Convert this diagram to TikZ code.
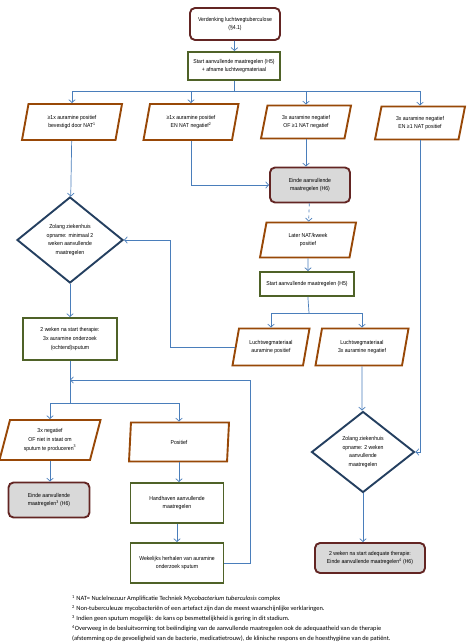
\documentclass[tikz,border=0pt]{standalone}
\usepackage{fontspec}
\setmainfont{Liberation Sans}[FakeStretch=0.9]
\newfontfamily\notefont{Carlito}
\usetikzlibrary{shapes.geometric,arrows.meta}

\definecolor{kaderrood}{HTML}{632523}
\definecolor{kadergroen}{HTML}{4F6228}
\definecolor{kaderoranje}{HTML}{984807}
\definecolor{kaderblauw}{HTML}{243F60}
\definecolor{lijnblauw}{HTML}{4A7EBB}
\definecolor{vulgrijs}{HTML}{D9D9D9}

\begin{document}
\begin{tikzpicture}[x=1pt,y=-1pt,
		tekst/.style={font=\fontsize{5.7}{8.6}\selectfont, align=center, inner sep=0pt},
		meldbox/.style={tekst, draw=kaderrood, line width=1.9pt, fill=white, rounded corners=5pt},
		eindbox/.style={tekst, draw=kaderrood, line width=1.9pt, fill=vulgrijs, rounded corners=5pt},
		stapbox/.style={tekst, draw=kadergroen, line width=1.9pt, fill=white},
		keuze/.style={tekst, trapezium, trapezium left angle=65, trapezium right angle=115,
			trapezium stretches body, draw=kaderoranje, line width=1.9pt, fill=white},
		ruit/.style={tekst, diamond, aspect=1.2, draw=kaderblauw, line width=1.9pt, fill=white},
		lijn/.style={draw=lijnblauw, line width=0.7pt},
		pijl/.style={lijn, -{Straight Barb[length=3pt,width=6.5pt]}},
		noot/.style={font=\notefont\fontsize{6.4}{10}\selectfont, align=left, inner sep=0pt}]
			\fill[white] (0,0) rectangle (474,644); % achtergrond
			\useasboundingbox (0,0) rectangle (474,644);
			% bovenste deel
			\node[meldbox, minimum width=90pt, minimum height=32pt] (verd) at (235,24) {Verdenking luchtwegtuberculose\\(§4.1)};
			\node[stapbox, minimum width=92pt, minimum height=28pt] (start1) at (234,66) {Start aanvullende maatregelen (H5)\\+ afname luchtwegmateriaal};
			\node[keuze, minimum width=100pt, minimum height=36pt] (pa1) at (72,122) {≥1x auramine positief\\bevestigd door NAT\textsuperscript{1}};
			\node[keuze, minimum width=95pt, minimum height=36pt] (pa2) at (191,122) {≥1x auramine positief\\EN NAT negatief\textsuperscript{2}};
			\node[keuze, minimum width=90pt, minimum height=33pt] (pa3) at (306,122) {3x auramine negatief\\OF ≥1 NAT negatief};
			\node[keuze, minimum width=90pt, minimum height=33pt] (pa4) at (420,123) {3x auramine negatief\\EN ≥1 NAT positief};
			% rechter tak
			\node[eindbox, minimum width=80pt, minimum height=35pt] (einde1) at (310,185) {Einde aanvullende\\maatregelen (H6)};
			\node[keuze, minimum width=96pt, minimum height=35pt] (later) at (308,240) {Later NAT/kweek\\positief};
			\node[stapbox, minimum width=94pt, minimum height=24pt] (start2) at (307,284) {Start aanvullende maatregelen (H5)};
			\node[keuze, minimum width=77pt, minimum height=37pt] (luchtpos) at (271,347) {Luchtwegmateriaal\\auramine positief};
			\node[keuze, minimum width=93pt, minimum height=37pt] (luchtneg) at (362,347) {Luchtwegmateriaal\\3x auramine negatief};
			\node[ruit, minimum width=103pt, minimum height=81pt] (dia2) at (363,452) {Zolang ziekenhuis\\opname: 2 weken\\aanvullende\\maatregelen};
			\node[eindbox, minimum width=110pt, minimum height=30pt] (einde3) at (370,558) {2 weken na start adequate therapie:\\Einde aanvullende maatregelen\textsuperscript{4} (H6)};
			% linker tak
			\node[ruit, minimum width=106pt, minimum height=86pt] (dia1) at (70,240) {Zolang ziekenhuis\\opname: minimaal 2\\weken aanvullende\\maatregelen};
			\node[stapbox, minimum width=94pt, minimum height=42pt] (twowk) at (70,339) {2 weken na start therapie:\\3x auramine onderzoek\\(ochtend)sputum};
			\node[keuze, minimum width=101pt, minimum height=40pt] (neg3) at (50,440) {3x negatief\\OF niet in staat om\\sputum te produceren\textsuperscript{3}};
			\node[keuze, minimum width=100pt, minimum height=39pt] (pos) at (179,442) {Positief};
			\node[eindbox, minimum width=81pt, minimum height=35pt] (einde2) at (49,500) {Einde aanvullende\\maatregelen\textsuperscript{3} (H6)};
			\node[stapbox, minimum width=93pt, minimum height=40pt] (handh) at (177,503) {Handhaven aanvullende\\maatregelen};
			\node[stapbox, minimum width=93pt, minimum height=40pt] (wekel) at (177,563) {Wekelijks herhalen van auramine\\onderzoek sputum};
			% verbindingen
			\coordinate (splitboven) at (234,91);
			\coordinate (splitmidden) at (309,313);
			\coordinate (splitonder) at (70,403);
			\coordinate (terugboven) at (170,240);
			\coordinate (terugrechts) at (250,380);
			\coordinate (samen) at (70,380);
			\draw[pijl] (verd) -- (start1);
			\draw[lijn] (start1) -- (splitboven);
			\draw[pijl] (splitboven) -| (pa1);
			\draw[pijl] (splitboven) -| (pa2);
			\draw[pijl] (splitboven) -| (pa3);
			\draw[pijl] (splitboven) -| (pa4);
			\draw[pijl] (pa1) -- (dia1);
			\draw[pijl] (pa2.south) |- (einde1.west);
			\draw[pijl] (pa3.south) -- (pa3.south |- einde1.north);
			\draw[pijl, dashed] (einde1) -- (later);
			\draw[pijl] (later) -- (later |- start2.north);
			\draw[lijn] (start2) -- (splitmidden);
			\draw[pijl] (splitmidden) -| (luchtpos);
			\draw[pijl] (splitmidden) -| (luchtneg);
			\draw[pijl] (luchtpos.west) -| (terugboven) -- (dia1.east); % terug naar ruit
			\draw[pijl] (luchtneg) -- (luchtneg |- dia2.north);
			\draw[pijl] (pa4.south) |- (dia2.east);
			\draw[pijl] (dia2.south) -- (dia2.south |- einde3.north);
			\draw[pijl] (dia1) -- (twowk);
			\draw[lijn] (twowk) -- (splitonder);
			\draw[pijl] (splitonder) -| (neg3);
			\draw[pijl] (splitonder) -| (pos);
			\draw[pijl] (neg3.south) -- (neg3.south |- einde2.north);
			\draw[pijl] (pos.south) -- (pos.south |- handh.north);
			\draw[pijl] (handh) -- (wekel);
			\draw[pijl] (wekel.east) -| (terugrechts) -- (samen); % wekelijks terug
			% voetnoten
			\node[noot, anchor=north west] (voetnoten) at (72,595) {\textsuperscript{1} NAT= Nucleïnezuur Amplificatie Techniek \textit{Mycobacterium tuberculosis} complex\\
				\textsuperscript{2} Non-tuberculeuze mycobacteriën of een artefact zijn dan de meest waarschijnlijke verklaringen.\\
				\textsuperscript{3} Indien geen sputum mogelijk: de kans op besmettelijkheid is gering in dit stadium.\\
				\textsuperscript{4}Overweeg in de besluitvorming tot beëindiging van de aanvullende maatregelen ook de adequaatheid van de therapie\\
				(afstemming op de gevoeligheid van de bacterie, medicatietrouw), de klinische respons en de hoesthygiëne van de patiënt.};
		\end{tikzpicture}
\end{document}
